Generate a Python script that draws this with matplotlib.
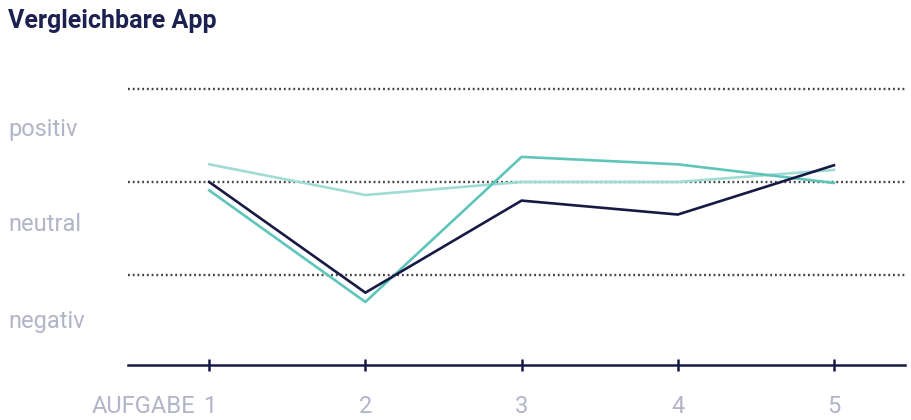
import matplotlib.pyplot as plt
from matplotlib.transforms import blended_transform_factory

tasks = [1, 2, 3, 4, 5]
navy_vals = [0.0, -1.19, -0.2, -0.35, 0.18]
teal_vals = [-0.09, -1.29, 0.27, 0.19, -0.01]
light_vals = [0.19, -0.14, 0.0, 0.0, 0.13]
levels = [1, 0, -1]
band_labels = ["positiv", "neutral", "negativ"]
band_pos = [0.56, -0.46, -1.5]

NAVY = "#161a44"
GREY = "#b2b4c7"

plt.rcParams["font.family"] = ["Roboto", "DejaVu Sans"]
fig = plt.figure(figsize=(9.12, 4.2), dpi=100)
ax = fig.add_axes([128/912, 55/420, (905-128)/912, 305/420])
ax.set_xlim(0.48, 5.455)
ax.set_ylim(-1.968, 1.312)

for lv in levels:
    ax.axhline(lv, color="#454545", lw=1.7, ls=(0, (0.8, 1.2)), zorder=1)

ax.plot(tasks, light_vals, color="#a0dcd5", lw=1.9, zorder=2)
ax.plot(tasks, teal_vals, color="#5fc5b9", lw=1.9, zorder=3)
ax.plot(tasks, navy_vals, color=NAVY, lw=1.9, zorder=4)

for s in ["top", "right", "left"]:
    ax.spines[s].set_visible(False)
ax.spines["bottom"].set_color(NAVY)
ax.spines["bottom"].set_linewidth(1.8)
ax.set_yticks([])
ax.set_xticks(tasks)
ax.set_xticklabels([str(t) for t in tasks])
ax.tick_params(axis="x", direction="inout", length=9, width=1.8, color=NAVY,
               labelsize=17, labelcolor=GREY, pad=17)
ax.annotate("AUFGABE", xy=(1, 0), xycoords=("data", "axes fraction"),
            xytext=(-10, -21.5), textcoords="offset points", ha="right", va="top",
            fontsize=17, color=GREY)

tr = blended_transform_factory(fig.transFigure, ax.transData)
for txt, y in zip(band_labels, band_pos):
    ax.text(8/912, y, txt, transform=tr, fontsize=17, color=GREY,
            va="center", ha="left")

fig.text(8/912, 1-21/420, "Vergleichbare App", fontsize=18, fontweight="bold",
         color="#1c2150", va="center", ha="left")

fig.savefig("out.png", dpi=100)
